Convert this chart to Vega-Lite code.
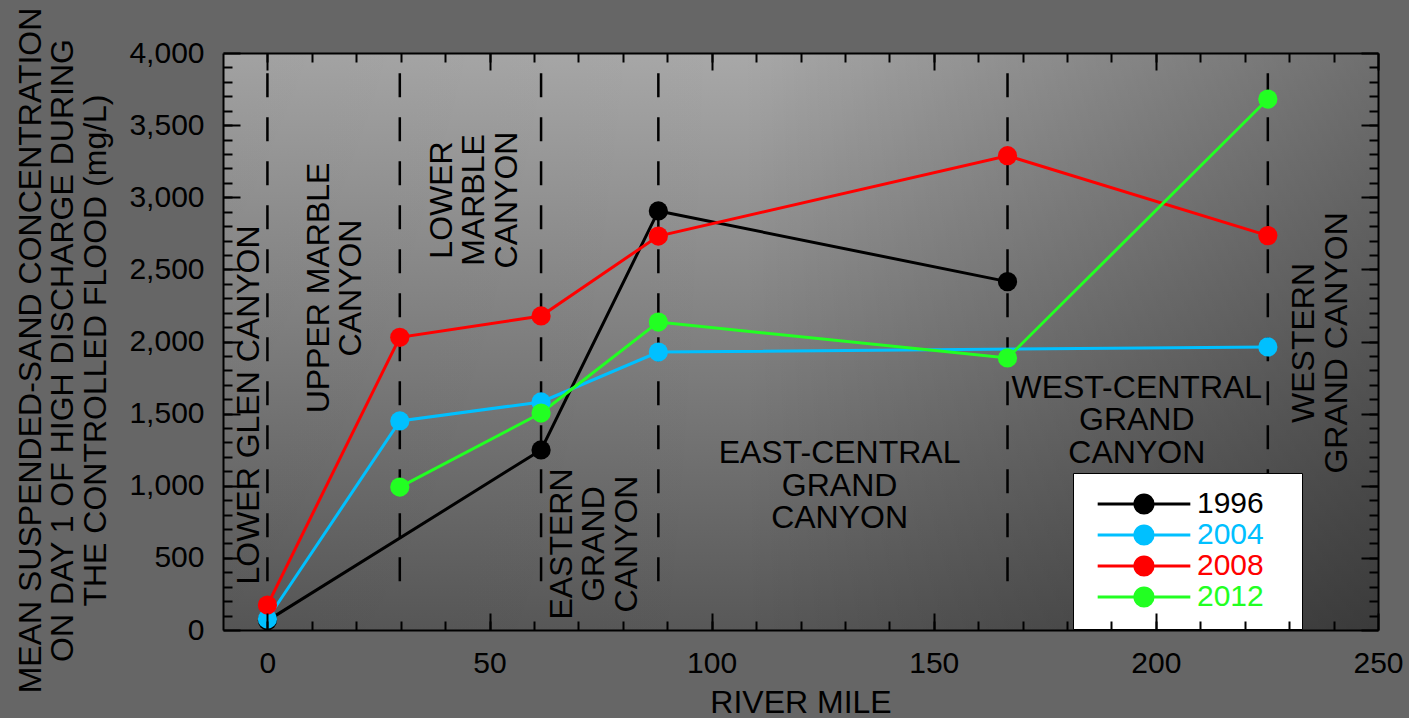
{
  "$schema": "https://vega.github.io/schema/vega-lite/v6.json",
  "width": 1155,
  "height": 577,
  "autosize": {"type": "none"},
  "padding": {"left": 223, "top": 53, "right": 31, "bottom": 88},
  "background": "#666666",
  "config": {
    "view": {"stroke": null},
    "font": "Liberation Sans",
    "axis": {
      "grid": false,
      "domainColor": "black",
      "tickColor": "black",
      "labelColor": "black",
      "titleColor": "black",
      "tickWidth": 2,
      "domainWidth": 2,
      "labelFont": "Liberation Sans",
      "titleFont": "Liberation Sans",
      "labelFontSize": 30,
      "titleFontSize": 32,
      "titleFontWeight": "normal",
      "labelFlush": false,
      "labelOverlap": false,
      "labelBound": false
    }
  },
  "datasets": {
    "series": [
      {"mile": 0, "conc": 65, "year": "1996"},
      {"mile": 61.6, "conc": 1248, "year": "1996"},
      {"mile": 88, "conc": 2905, "year": "1996"},
      {"mile": 166.6, "conc": 2415, "year": "1996"},
      {"mile": 0, "conc": 76, "year": "2004"},
      {"mile": 29.8, "conc": 1449, "year": "2004"},
      {"mile": 61.6, "conc": 1581, "year": "2004"},
      {"mile": 88, "conc": 1927, "year": "2004"},
      {"mile": 225.2, "conc": 1962, "year": "2004"},
      {"mile": 0, "conc": 173, "year": "2008"},
      {"mile": 29.8, "conc": 2029, "year": "2008"},
      {"mile": 61.6, "conc": 2177, "year": "2008"},
      {"mile": 88, "conc": 2731, "year": "2008"},
      {"mile": 166.6, "conc": 3288, "year": "2008"},
      {"mile": 225.2, "conc": 2734, "year": "2008"},
      {"mile": 29.8, "conc": 991, "year": "2012"},
      {"mile": 61.6, "conc": 1504, "year": "2012"},
      {"mile": 88, "conc": 2135, "year": "2012"},
      {"mile": 166.6, "conc": 1886, "year": "2012"},
      {"mile": 225.2, "conc": 3681, "year": "2012"}
    ],
    "bounds": [
      {"mile": 0}, {"mile": 29.8}, {"mile": 61.6}, {"mile": 88}, {"mile": 166.6}, {"mile": 225.2}
    ],
    "vlabels": [
      {"mile": -4.05, "conc": 1560, "label": "LOWER GLEN CANYON"},
      {"mile": 11.5, "conc": 2371, "label": "UPPER MARBLE\nCANYON"},
      {"mile": 39.2, "conc": 2981, "label": "LOWER\nMARBLE\nCANYON"},
      {"mile": 66.2, "conc": 596, "label": "EASTERN\nGRAND\nCANYON"},
      {"mile": 233.4, "conc": 1990, "label": "WESTERN\nGRAND CANYON"}
    ],
    "hlabels": [
      {"mile": 128.8, "conc": 1227, "label": "EAST-CENTRAL\nGRAND\nCANYON"},
      {"mile": 195.7, "conc": 1678, "label": "WEST-CENTRAL\nGRAND\nCANYON"}
    ]
  },
  "layer": [
    {
      "data": {"values": [{}]},
      "mark": {
        "type": "rect",
        "fill": {
          "gradient": "linear", "x1": 0, "y1": 0, "x2": 0, "y2": 1,
          "stops": [{"offset": 0, "color": "#a8a8a8"}, {"offset": 1, "color": "#585858"}]
        }
      },
      "encoding": {
        "x": {"datum": -10, "type": "quantitative", "scale": {"domain": [-10, 250], "nice": false, "zero": false}, "axis": null},
        "x2": {"datum": 250},
        "y": {"datum": 4000, "type": "quantitative", "scale": {"domain": [0, 4000], "nice": false}, "axis": null},
        "y2": {"datum": 0}
      }
    },
    {
      "data": {"values": [{}]},
      "mark": {
        "type": "rect",
        "fill": {
          "gradient": "linear", "x1": 0, "y1": 0, "x2": 1, "y2": 0,
          "stops": [
            {"offset": 0, "color": "rgba(0,0,0,0.04)"},
            {"offset": 0.45, "color": "rgba(0,0,0,0)"},
            {"offset": 1, "color": "rgba(0,0,0,0.34)"}
          ]
        }
      },
      "encoding": {
        "x": {"datum": -10, "type": "quantitative", "scale": {"domain": [-10, 250], "nice": false, "zero": false}, "axis": null},
        "x2": {"datum": 250},
        "y": {"datum": 4000, "type": "quantitative", "scale": {"domain": [0, 4000], "nice": false}, "axis": null},
        "y2": {"datum": 0}
      }
    },
    {
      "data": {"name": "bounds"},
      "mark": {"type": "rule", "strokeDash": [24, 20], "strokeWidth": 2.5, "color": "black"},
      "encoding": {
        "x": {
          "field": "mile", "type": "quantitative",
          "scale": {"domain": [-10, 250], "nice": false, "zero": false},
          "axis": {"orient": "bottom", "zindex": 1, "values": [0,10,20,30,40,50,60,70,80,90,100,110,120,130,140,150,160,170,180,190,200,210,220,230,240], "tickSize": -9, "labels": false, "domain": false, "title": null}
        },
        "y": {
          "datum": 3860, "type": "quantitative",
          "scale": {"domain": [0, 4000], "nice": false},
          "axis": {"orient": "left", "zindex": 1, "values": [100,200,300,400,500,600,700,800,900,1000,1100,1200,1300,1400,1500,1600,1700,1800,1900,2000,2100,2200,2300,2400,2500,2600,2700,2800,2900,3000,3100,3200,3300,3400,3500,3600,3700,3800,3900], "tickSize": -9, "labels": false, "domain": false, "title": null}
        },
        "y2": {"datum": 215}
      }
    },
    {
      "data": {"name": "vlabels"},
      "mark": {"type": "text", "angle": 270, "align": "center", "baseline": "middle", "fontSize": 32, "lineHeight": 32.5, "lineBreak": "\n", "color": "black", "font": "Liberation Sans"},
      "encoding": {
        "x": {
          "field": "mile", "type": "quantitative",
          "scale": {"domain": [-10, 250], "nice": false, "zero": false},
          "axis": {"orient": "top", "zindex": 1, "values": [0,10,20,30,40,50,60,70,80,90,100,110,120,130,140,150,160,170,180,190,200,210,220,230,240], "tickSize": -9, "labels": false, "domain": false, "title": null}
        },
        "y": {
          "field": "conc", "type": "quantitative",
          "scale": {"domain": [0, 4000], "nice": false},
          "axis": {"orient": "right", "zindex": 1, "values": [100,200,300,400,500,600,700,800,900,1000,1100,1200,1300,1400,1500,1600,1700,1800,1900,2000,2100,2200,2300,2400,2500,2600,2700,2800,2900,3000,3100,3200,3300,3400,3500,3600,3700,3800,3900], "tickSize": -9, "labels": false, "domain": false, "title": null}
        },
        "text": {"field": "label"}
      }
    },
    {
      "data": {"name": "hlabels"},
      "mark": {"type": "text", "align": "center", "baseline": "middle", "fontSize": 32, "lineHeight": 32.5, "lineBreak": "\n", "color": "black", "font": "Liberation Sans"},
      "encoding": {
        "x": {"field": "mile", "type": "quantitative", "scale": {"domain": [-10, 250], "nice": false, "zero": false}, "axis": null},
        "y": {"field": "conc", "type": "quantitative", "scale": {"domain": [0, 4000], "nice": false}, "axis": null},
        "text": {"field": "label"}
      }
    },
    {
      "data": {"name": "series"},
      "mark": {"type": "line", "strokeWidth": 3},
      "encoding": {
        "x": {
          "field": "mile", "type": "quantitative",
          "scale": {"domain": [-10, 250], "nice": false, "zero": false},
          "axis": {"orient": "bottom", "zindex": 1, "values": [0, 50, 100, 150, 200, 250], "tickSize": -17, "labelPadding": 35, "format": "d", "domain": true, "title": "RIVER MILE", "titleBaseline": "alphabetic", "titleY": 82}
        },
        "y": {
          "field": "conc", "type": "quantitative",
          "scale": {"domain": [0, 4000], "nice": false},
          "axis": {"orient": "left", "zindex": 1, "values": [0, 500, 1000, 1500, 2000, 2500, 3000, 3500, 4000], "tickSize": -17, "labelPadding": 36, "format": ",.0f", "domain": true, "title": ["MEAN SUSPENDED-SAND CONCENTRATION", "ON DAY 1 OF HIGH DISCHARGE DURING", "THE CONTROLLED FLOOD (mg/L)"], "titleLineHeight": 32.5, "titleX": -176, "titleY": 297}
        },
        "color": {
          "field": "year", "type": "nominal",
          "scale": {"domain": ["1996", "2004", "2008", "2012"], "range": ["#000000", "#00c0ff", "#ff0000", "#22ff22"]}
        }
      }
    },
    {
      "data": {"name": "series"},
      "mark": {"type": "point", "shape": "circle", "filled": true, "size": 370, "opacity": 1},
      "encoding": {
        "x": {
          "field": "mile", "type": "quantitative",
          "scale": {"domain": [-10, 250], "nice": false, "zero": false},
          "axis": {"orient": "top", "zindex": 1, "values": [0, 50, 100, 150, 200, 250], "tickSize": -17, "labels": false, "domain": true, "title": null}
        },
        "y": {
          "field": "conc", "type": "quantitative",
          "scale": {"domain": [0, 4000], "nice": false},
          "axis": {"orient": "right", "zindex": 1, "values": [0, 500, 1000, 1500, 2000, 2500, 3000, 3500, 4000], "tickSize": -17, "labels": false, "domain": true, "title": null}
        },
        "color": {
          "field": "year", "type": "nominal",
          "scale": {"domain": ["1996", "2004", "2008", "2012"], "range": ["#000000", "#00c0ff", "#ff0000", "#22ff22"]},
          "legend": {
            "title": "\u00a0",
            "titleOrient": "right",
            "titlePadding": 22,
            "titleFontSize": 2,
            "orient": "none",
            "legendX": 850,
            "legendY": 420,
            "fillColor": "white",
            "strokeColor": "black",
            "padding": 16,
            "symbolType": "M-5.1,0H5.1M-1,0A1,1 0 1,0 1,0A1,1 0 1,0 -1,0Z",
            "symbolSize": 330,
            "symbolStrokeWidth": 3,
            "symbolOffset": 40,
            "labelOffset": 38,
            "labelFontSize": 30,
            "labelFont": "Liberation Sans",
            "labelColor": {"expr": "scale('color', datum.value)"},
            "rowPadding": -11,
            "labelExpr": "datum.label + '\u00a0\u00a0'",
            "encode": {
              "legend": {"strokeWidth": {"value": 2}}
            }
          }
        }
      }
    }
  ],
  "resolve": {"axis": {"x": "independent", "y": "independent"}}
}
